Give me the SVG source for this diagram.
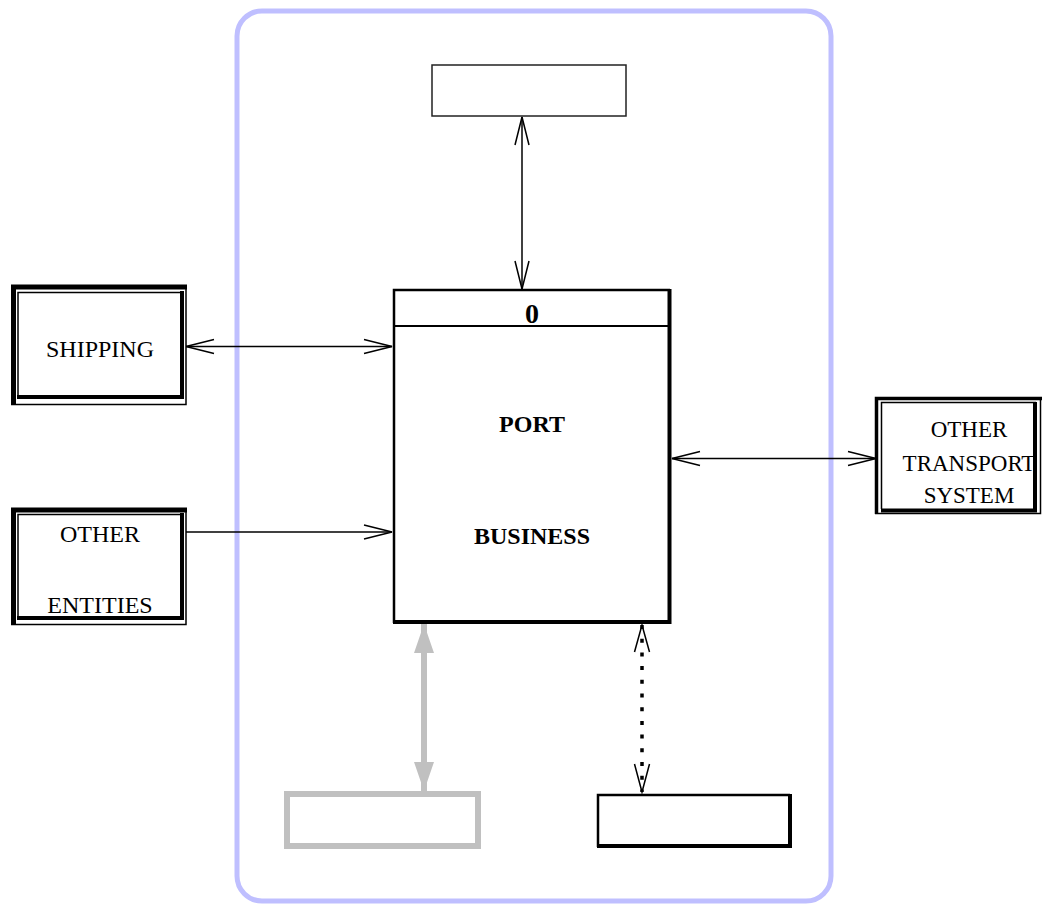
<svg xmlns="http://www.w3.org/2000/svg" width="1046" height="905" viewBox="0 0 1046 905">
<style>
.lbl{font-family:"Liberation Serif","Times New Roman",serif;font-size:23px;fill:#000;text-anchor:middle}
.big{font-size:24px}
.bold{font-weight:bold}
.thin{fill:none;stroke:#000;stroke-width:1.5}
.thick{fill:none;stroke:#000;stroke-width:4}
.conn{fill:none;stroke:#000;stroke-width:1.5}
</style>
<defs>
<marker id="openv" markerUnits="userSpaceOnUse" markerWidth="32" markerHeight="20" viewBox="-30 -10 32 20" refX="0" refY="0" orient="auto-start-reverse">
<path d="M-28,-7 L0,0 L-28,7" fill="none" stroke="#000" stroke-width="1.5"/>
</marker>
<marker id="grayhead" markerUnits="userSpaceOnUse" markerWidth="32" markerHeight="24" viewBox="-30 -12 32 24" refX="0" refY="0" orient="auto-start-reverse">
<path d="M-29,-10 L0,0 L-29,10 Z" fill="#c0c0c0"/>
</marker>
</defs>
<rect width="1046" height="905" fill="#fff"/>
<g id="boundary">
<rect x="237" y="11" width="594" height="890" rx="25" ry="25" fill="none" stroke="#bfbfff" stroke-width="5"/>
</g>
<g id="connectors">
<line x1="522" y1="117" x2="522" y2="289" class="conn" marker-start="url(#openv)" marker-end="url(#openv)"/>
<line x1="186" y1="346.5" x2="392" y2="346.5" class="conn" marker-start="url(#openv)" marker-end="url(#openv)"/>
<line x1="186" y1="532" x2="392" y2="532" class="conn" marker-end="url(#openv)"/>
<line x1="672" y1="458.5" x2="876" y2="458.5" class="conn" marker-start="url(#openv)" marker-end="url(#openv)"/>
<line x1="424" y1="624" x2="424" y2="791" fill="none" stroke="#c0c0c0" stroke-width="6" marker-start="url(#grayhead)" marker-end="url(#grayhead)"/>
<line x1="642" y1="625" x2="642" y2="792" fill="none" stroke="#000" stroke-width="3.5" stroke-dasharray="4 9.7"/>
<path d="M634.5,652 L642,625 L649.5,652 M634.5,764 L642,792 L649.5,764" fill="none" stroke="#000" stroke-width="1.5"/>
</g>
<g id="top-store">
<rect x="432" y="65" width="194" height="51" fill="#fff" stroke="#222" stroke-width="1.5"/>
</g>
<g id="process-0">
<rect x="394" y="290" width="275" height="332" fill="#fff" stroke="none"/>
<path d="M394,623 V290 H670" fill="none" stroke="#000" stroke-width="2.5"/>
<path d="M669.5,289 V622 H393" fill="none" stroke="#000" stroke-width="4"/>
<line x1="394" y1="326" x2="669" y2="326" stroke="#000" stroke-width="2"/>
<text class="lbl bold" x="532" y="323" style="font-size:28px">0</text>
<text class="lbl bold big" x="532" y="432">PORT</text>
<text class="lbl bold big" x="532" y="544">BUSINESS</text>
</g>
<g id="shipping">
<rect x="13" y="287" width="173" height="117" fill="#fff" stroke="none"/>
<path d="M13.5,405 V287 H187" class="thick" style="stroke-width:5"/>
<path d="M186,287 V404.5 H11" class="thin"/>
<path d="M18,398 V292.5 H183" class="thin"/>
<path d="M182,291 V397 H17" class="thick"/>
<text class="lbl big" x="100" y="357">SHIPPING</text>
</g>
<g id="other-entities">
<rect x="13" y="510" width="173" height="114" fill="#fff" stroke="none"/>
<path d="M13.5,625 V510 H187" class="thick" style="stroke-width:5"/>
<path d="M186,510 V624.5 H11" class="thin"/>
<path d="M18,618 V514.5 H183" class="thin"/>
<path d="M182,513 V618 H17" class="thick"/>
<text class="lbl big" x="100" y="542">OTHER</text>
<text class="lbl big" x="100" y="613">ENTITIES</text>
</g>
<g id="other-transport">
<rect x="876" y="398" width="165" height="115" fill="#fff" stroke="none"/>
<path d="M876.5,514 V398.5 H1042" class="thick" style="stroke-width:3.5"/>
<path d="M1040.5,398 V513.5 H875" class="thin"/>
<path d="M881.5,509 V402.5 H1036" class="thin"/>
<path d="M1035,402 V510.5 H881" class="thick"/>
<text class="lbl" x="969" y="437">OTHER</text>
<text class="lbl" x="969" y="471">TRANSPORT</text>
<text class="lbl" x="969" y="503">SYSTEM</text>
</g>
<g id="gray-store">
<rect x="287" y="794" width="191" height="52" fill="none" stroke="#c0c0c0" stroke-width="6"/>
</g>
<g id="black-store">
<path d="M598,847 V795 H790" fill="none" stroke="#000" stroke-width="2.5"/>
<path d="M790,794 V846 H597" fill="none" stroke="#000" stroke-width="4"/>
</g>
</svg>
